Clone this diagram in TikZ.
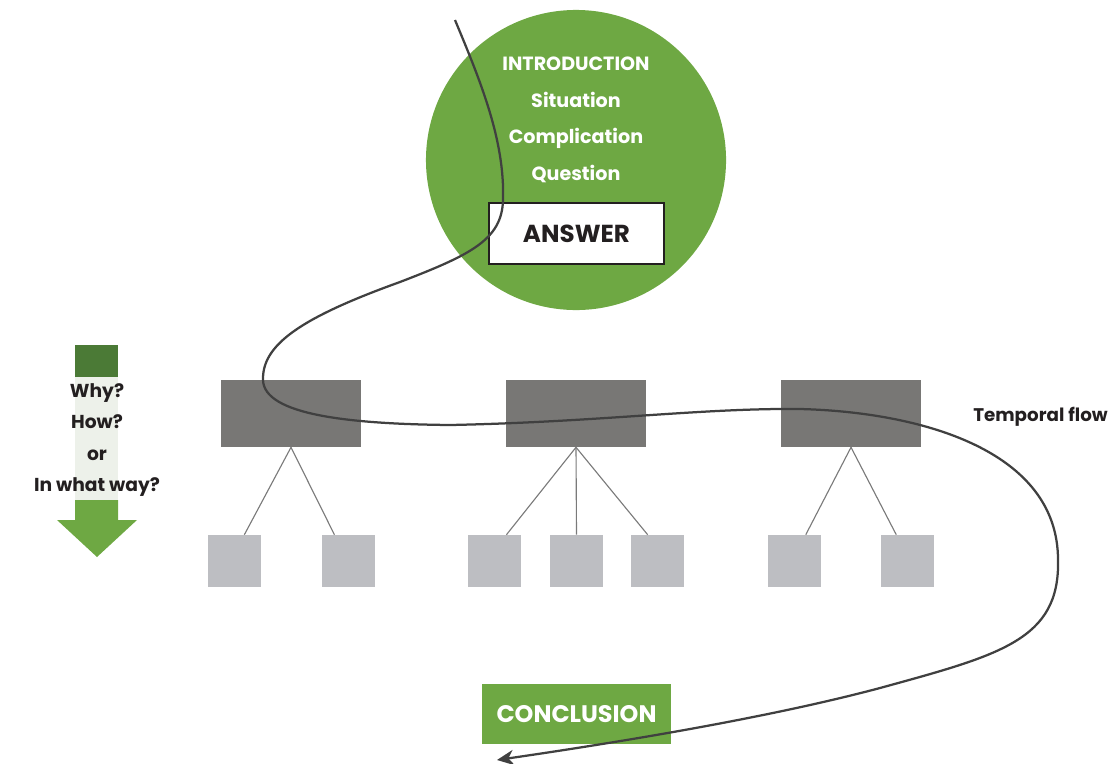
\documentclass[tikz,border=0pt]{standalone}
\usepackage{fontspec}
\setmainfont{Poppins}
\usetikzlibrary{arrows.meta, positioning}
\definecolor{leafgreen}{HTML}{6EA843}
\definecolor{deepgreen}{HTML}{4B7A36}
\definecolor{palegreen}{HTML}{EDF1EA}
\definecolor{boxgray}{HTML}{787775}
\definecolor{leafgray}{HTML}{BDBEC2}
\definecolor{linkgray}{HTML}{7A7A7A}
\definecolor{ink}{HTML}{231F20}
\definecolor{flowink}{HTML}{404040}

\begin{document}
\begin{tikzpicture}[x=0.025cm, y=-0.025cm,
  topic/.style={fill=boxgray, minimum width=3.5cm, minimum height=1.675cm, inner sep=0pt},
  leaf/.style={fill=leafgray, minimum width=1.325cm, minimum height=1.3cm, inner sep=0pt},
  pyr/.style={font=\bfseries\fontsize{13.6}{26}\selectfont, align=center},
  lbl/.style={font=\bfseries\fontsize{13.3}{22.3}\selectfont, text=ink, align=center},
  link/.style={draw=linkgray, line width=0.8pt},
  flow/.style={-{Stealth[length=12pt, width=11pt]}, line width=1.6pt, color=flowink}
]
\useasboundingbox (0,0) rectangle (1115,763);

% top of the pyramid
\node[circle, fill=leafgreen, minimum size=7.5cm, inner sep=0pt] (intro) at (576,160) {};
\node[pyr, text=white] (sitq) at (576,120) {INTRODUCTION\\Situation\\Complication\\Question};
\node[draw=ink, line width=0.8pt, fill=white, minimum width=4.375cm, minimum height=1.525cm,
      font=\bfseries\fontsize{17.5}{20}\selectfont, text=ink] (answer) at (576.5,233.5) {ANSWER};

% key line and supporting points
\node[topic] (t1) at (291,413.5) {};
\node[topic] (t2) at (576,413.5) {};
\node[topic] (t3) at (851,413.5) {};

\node[leaf] (s1) at (234.5,561) {};
\node[leaf] (s2) at (348.5,561) {};
\node[leaf] (s3) at (494.5,561) {};
\node[leaf] (s4) at (576.5,561) {};
\node[leaf] (s5) at (657.5,561) {};
\node[leaf] (s6) at (794.5,561) {};
\node[leaf] (s7) at (907.5,561) {};

\foreach \p/\c/\o in {t1/s1/7pt, t1/s2/-10pt, t2/s3/8.5pt, t2/s4/0pt, t2/s5/-7pt, t3/s6/8pt, t3/s7/-8pt}
  \draw[link] (\p.south) -- ([xshift=\o]\c.north);

% vertical logic arrow
\fill[deepgreen] (75,345) rectangle (118,377);
\fill[palegreen] (75,377) rectangle (118,500);
\fill[leafgreen] (75,500) -- (118,500) -- (118,520) -- (137,520) -- (97,557) -- (57,520) -- (75,520) -- cycle;
\node[lbl] (why) at (97,440) {Why?\\How?\\or\\In what way?};

\node[fill=leafgreen, minimum width=4.725cm, minimum height=1.5cm,
      font=\bfseries\fontsize{17}{20}\selectfont, text=white] (concl) at (576.5,714) {CONCLUSION};

\node[lbl, anchor=west, inner sep=0pt, font=\bfseries\fontsize{13}{16}\selectfont] (tflow) at (973,417) {Temporal flow};

% reading path
\coordinate (flowin) at (455,20);
\coordinate (flowout) at (497,760);
\draw[flow] (flowin) .. controls (480,80) and (505,140) .. (503,200)
  .. controls (502,240) and (470,255) .. (400,282)
  .. controls (300,318) and (262,345) .. (263,380)
  .. controls (264,415) and (350,424) .. (450,425)
  .. controls (600,422) and (700,408) .. (800,409)
  .. controls (920,412) and (1058,450) .. (1058,560)
  .. controls (1060,640) and (1000,655) .. (880,688)
  .. controls (760,720) and (600,745) .. (flowout);
\end{tikzpicture}
\end{document}
